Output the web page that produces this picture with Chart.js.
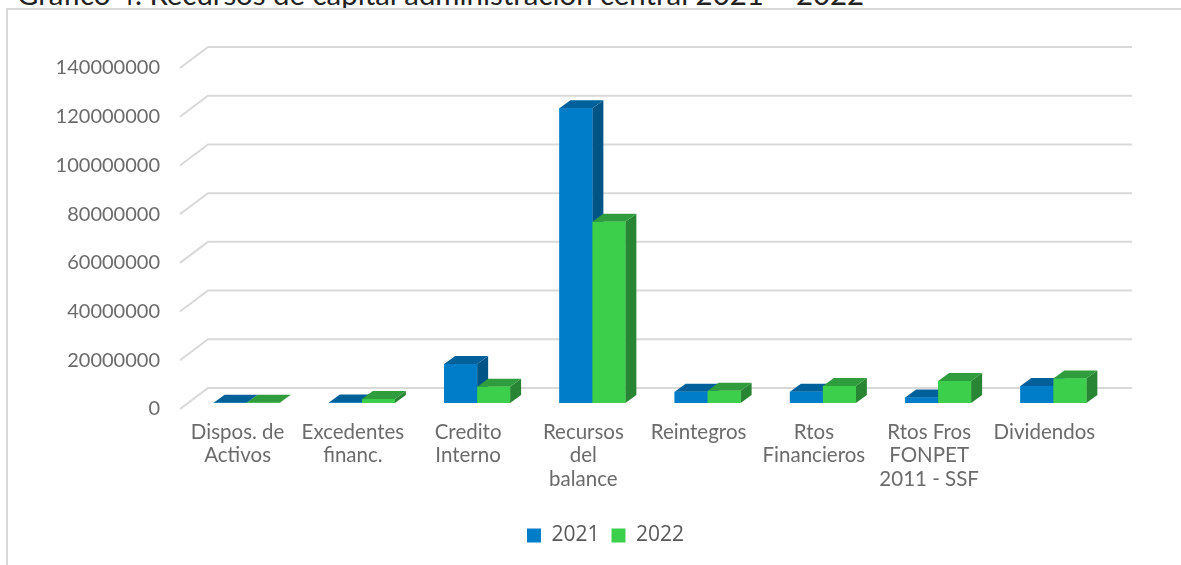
<!DOCTYPE html>
<html>
<head>
<meta charset="utf-8">
<style>
  html, body { margin: 0; padding: 0; background: #fff; overflow: hidden; }
  #wrap { position: relative; width: 1181px; height: 565px; overflow: hidden; }
  #titulo { position: absolute; left: 17px; top: -24px; font: 29.4px Lato, sans-serif; color: #222; white-space: nowrap; }
  #marco { position: absolute; left: 6px; top: 8px; width: 1175px; height: 570px; border-top: 2px solid #d9d9d9; border-left: 2px solid #d9d9d9; box-sizing: border-box; }
  canvas { position: absolute; left: 0; top: 0; }
</style>
</head>
<body>
<div id="wrap">
  <div id="titulo">Gráfico 4. Recursos de capital administración central 2021 – 2022</div>
  <div id="marco"></div>
  <canvas id="grafico" width="1181" height="565"></canvas>
</div>
<script src="https://cdn.jsdelivr.net/npm/chart.js@4"></script>
<script>
const categorias = [
    ['Dispos. de', 'Activos'],
    ['Excedentes', 'financ.'],
    ['Credito', 'Interno'],
    ['Recursos', 'del', 'balance'],
    'Reintegros',
    ['Rtos', 'Financieros'],
    ['Rtos Fros', 'FONPET', '2011 - SSF'],
    'Dividendos'
];
const valores2021 = [100000, 200000, 16000000, 121000000, 4600000, 4600000, 2300000, 7000000];
const valores2022 = [100000, 1600000, 6700000, 74400000, 5000000, 7000000, 9000000, 10100000];

const colores = {
    2021: { frente: '#007dc8', arriba: '#00609a', lado: '#005587' },
    2022: { frente: '#3bcf4c', arriba: '#2f9c3d', lado: '#288533' }
};

// profundidad de las barras y del plano de la cuadricula
const profBarra = { x: 11, y: 8 };
const pared = { frenteX: -9, frenteY: 6, fondoX: 19, fondoY: -15, finX: 21 };

const cuadricula3d = {
    id: 'cuadricula3d',
    afterLayout(chart) {
        // la leyenda no esta centrada en el lienzo
        chart.legend.left += 30;
        chart.legend.right += 30;
    },
    beforeDatasetsDraw(chart) {
        const { ctx, chartArea, scales } = chart;
        ctx.save();
        ctx.strokeStyle = '#d9d9d9';
        ctx.lineWidth = 2;
        scales.y.ticks.forEach(t => {
            const y = scales.y.getPixelForValue(t.value);
            ctx.beginPath();
            ctx.moveTo(chartArea.left + pared.frenteX, y + pared.frenteY);
            ctx.lineTo(chartArea.left + pared.fondoX, y + pared.fondoY);
            ctx.lineTo(chartArea.right + pared.finX, y + pared.fondoY);
            ctx.stroke();
        });
        ctx.restore();
    }
};

// caras de arriba y del lado, por encima de la barra nativa
const barras3d = {
    id: 'barras3d',
    afterDatasetsDraw(chart) {
        const { ctx } = chart;
        const n = chart.data.labels.length;
        ctx.save();
        for (let i = 0; i < n; i++) {
            chart.data.datasets.forEach((ds, d) => {
                const el = chart.getDatasetMeta(d).data[i];
                const c = colores[ds.label];
                const izq = el.x - el.width / 2;
                const der = el.x + el.width / 2;
                const dx = profBarra.x, dy = profBarra.y;
                ctx.fillStyle = c.lado;
                ctx.beginPath();
                ctx.moveTo(der, el.base);
                ctx.lineTo(der + dx, el.base - dy);
                ctx.lineTo(der + dx, el.y - dy);
                ctx.lineTo(der, el.y);
                ctx.closePath();
                ctx.fill();
                ctx.fillStyle = c.arriba;
                ctx.beginPath();
                ctx.moveTo(izq, el.y);
                ctx.lineTo(izq + dx, el.y - dy);
                ctx.lineTo(der + dx, el.y - dy);
                ctx.lineTo(der, el.y);
                ctx.closePath();
                ctx.fill();
                ctx.fillStyle = c.frente;
                ctx.fillRect(izq, el.y, el.width, el.base - el.y);
            });
        }
        ctx.restore();
    }
};

new Chart(document.getElementById('grafico'), {
    type: 'bar',
    data: {
        labels: categorias,
        datasets: [
            { label: '2021', data: valores2021, backgroundColor: colores[2021].frente, barPercentage: 1, categoryPercentage: 66 / 115.3 },
            { label: '2022', data: valores2022, backgroundColor: colores[2022].frente, barPercentage: 1, categoryPercentage: 66 / 115.3 }
        ]
    },
    options: {
        responsive: false,
        animation: false,
        layout: { padding: { left: 40, right: 70, top: 62, bottom: 9 } },
        plugins: {
            tooltip: { enabled: false },
            title: { display: false },
            legend: {
                position: 'bottom',
                onClick: null,
                labels: {
                    boxWidth: 14,
                    boxHeight: 14,
                    padding: 12,
                    color: '#595959',
                    font: { family: '"Open Sans"', size: 21 }
                }
            }
        },
        scales: {
            x: {
                grid: { display: false, drawTicks: false },
                border: { display: false },
                afterFit: s => { s.height = 110; },
                ticks: {
                    autoSkip: false,
                    maxRotation: 0,
                    minRotation: 0,
                    labelOffset: -9,
                    padding: 18,
                    color: '#6b6b6b',
                    font: { family: 'Lato', size: 20.5, lineHeight: 1.13 }
                }
            },
            y: {
                min: 0,
                max: 140000000,
                grid: { display: false, drawTicks: false },
                border: { display: false },
                afterFit: s => { s.width = 149; },
                ticks: {
                    stepSize: 20000000,
                    padding: 29,
                    labelOffset: 6,
                    color: '#6b6b6b',
                    font: { family: 'Lato', size: 20 },
                    callback: v => String(v)
                }
            }
        }
    },
    plugins: [cuadricula3d, barras3d]
});
</script>
</body>
</html>
